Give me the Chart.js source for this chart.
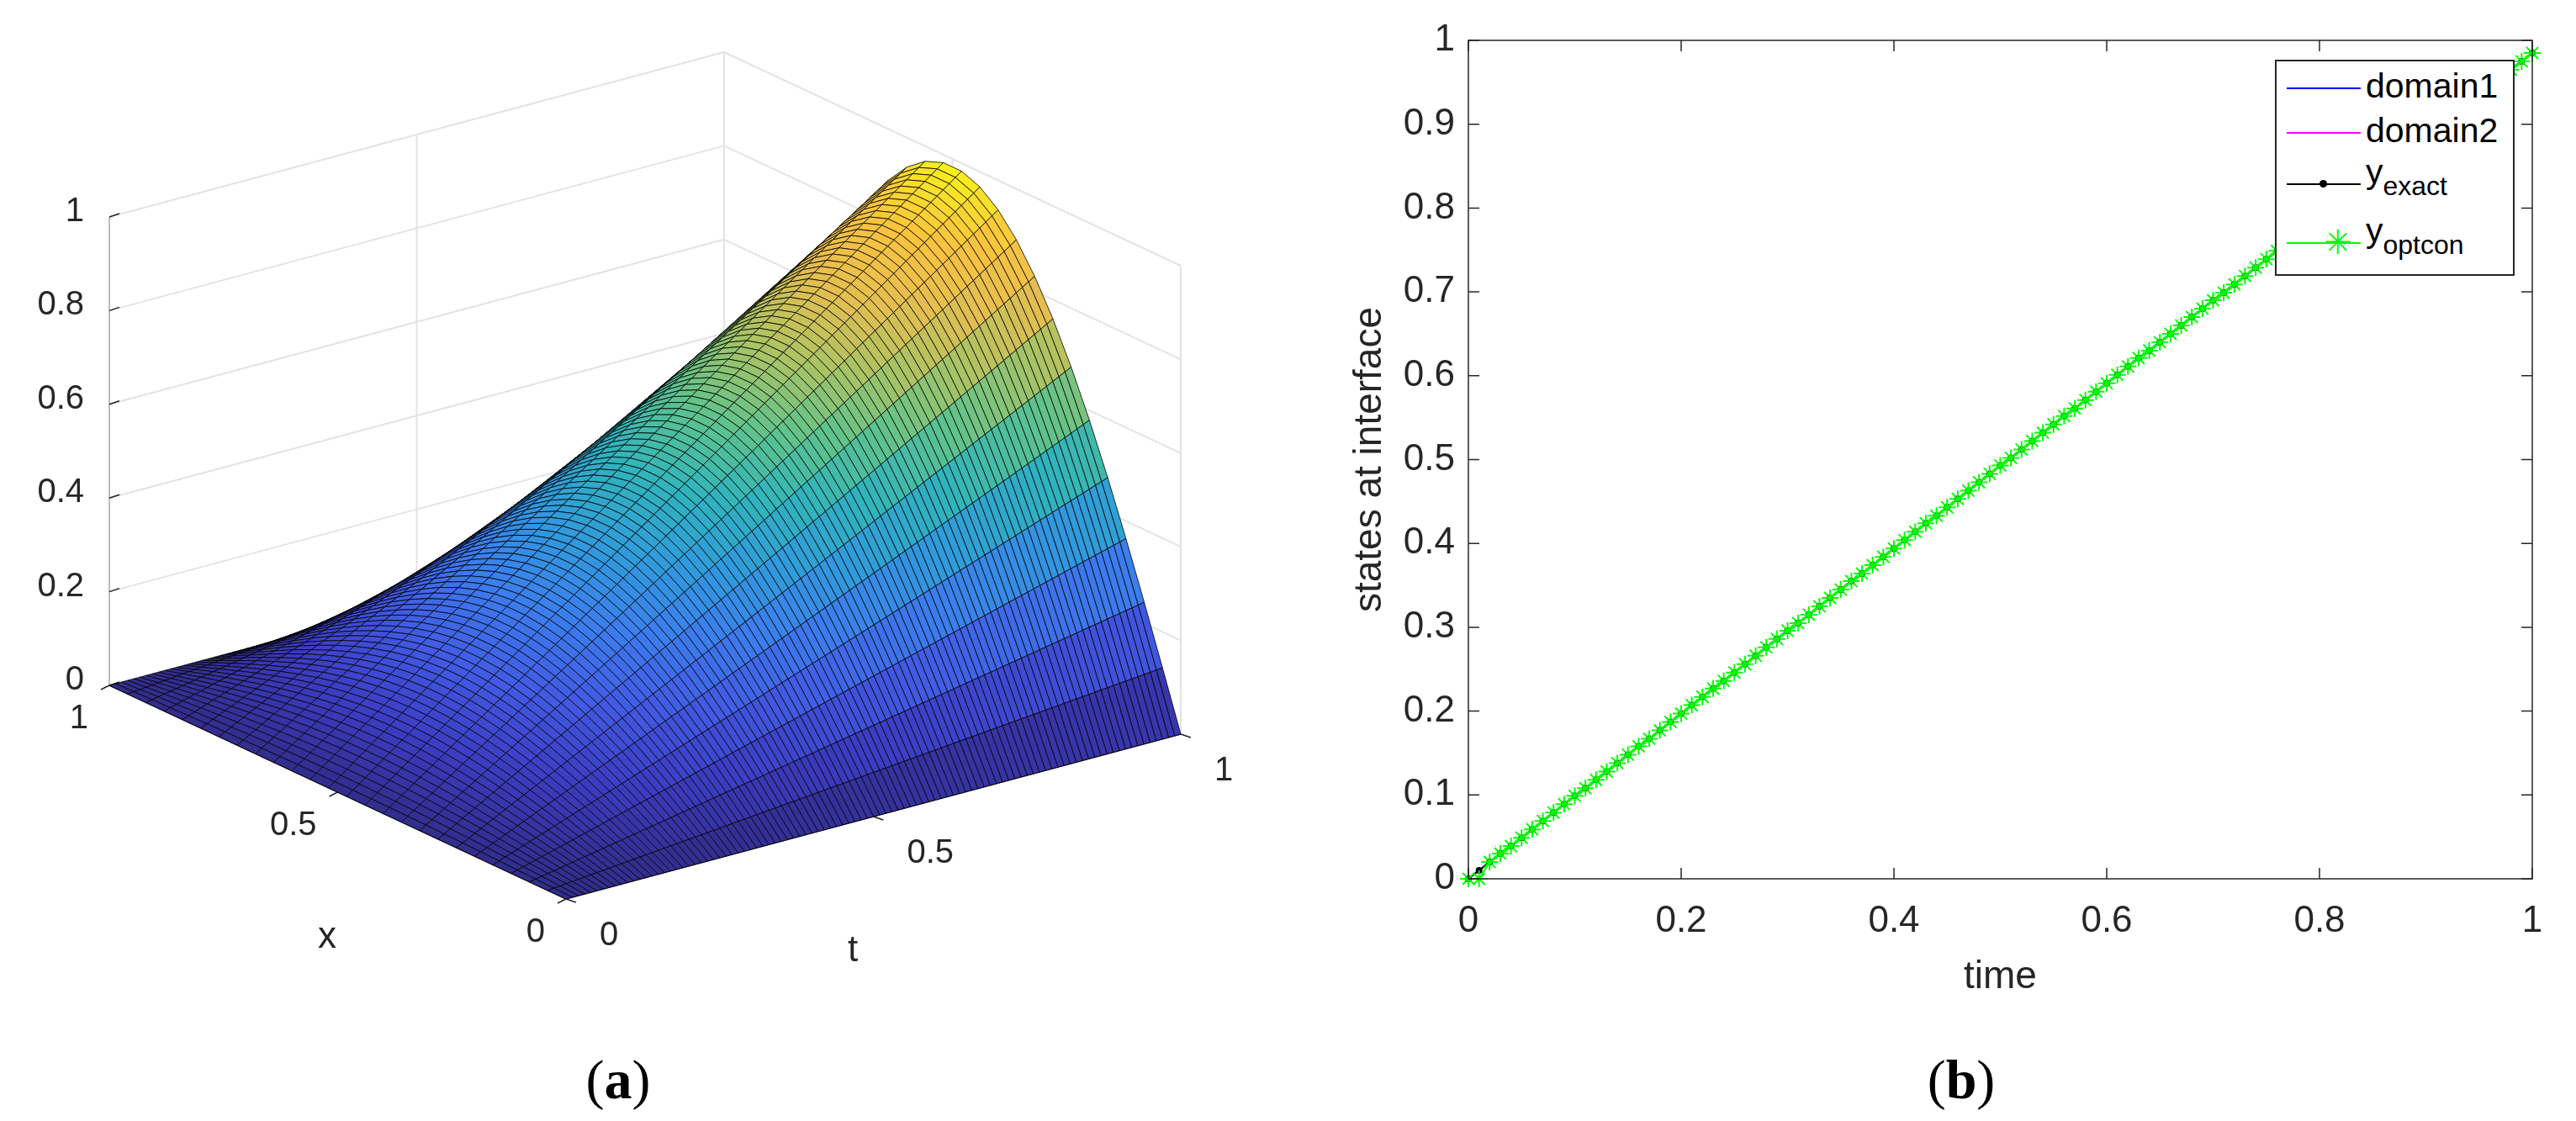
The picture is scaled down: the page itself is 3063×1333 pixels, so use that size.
<!DOCTYPE html>
<html><head><meta charset="utf-8">
<script src="https://cdn.jsdelivr.net/npm/chart.js@4"></script>
<style>
body{margin:0;background:#fff;width:3063px;height:1333px;position:relative;overflow:hidden;font-family:"Liberation Sans",Arial,sans-serif}
canvas{position:absolute}
.cap{position:absolute;font-family:"Liberation Serif","DejaVu Serif",serif;font-size:66px;color:#000;transform:translate(-50%,-50%)}
#legend{position:absolute;left:2705px;top:71px;width:281px;height:253px;border:2px solid #262626;background:#fff;font-size:41px;color:#000}
.row{position:absolute;left:10px;height:40px}
.sw{position:absolute;left:2px;width:88px;top:0;height:2px}
.lab{position:absolute;left:96px;white-space:nowrap;line-height:1}
sub{font-size:32px;vertical-align:-14px}
</style></head><body>
<div id="wl" style="position:absolute;left:0;top:0;width:1500px;height:1200px"><canvas id="c1"></canvas></div>
<div id="wr" style="position:absolute;left:1600px;top:0;width:1463px;height:1200px"><canvas id="c2"></canvas></div>
<div id="legend">
 <div class="row" style="top:31px"><div class="sw" style="background:#0000ff;top:0"></div><div class="lab" style="top:-22px">domain1</div></div>
 <div class="row" style="top:84px"><div class="sw" style="background:#ff00ff;top:0"></div><div class="lab" style="top:-22px">domain2</div></div>
 <div class="row" style="top:145px"><div class="sw" style="background:#000;top:0"></div><div style="position:absolute;left:41px;top:-4px;width:9px;height:9px;border-radius:50%;background:#000"></div><div class="lab" style="top:-34px">y<sub>exact</sub></div></div>
 <div class="row" style="top:215px"><div class="sw" style="background:#00ff00;top:0"></div><div style="position:absolute;left:46px;top:-12px;color:#00ff00;font-size:40px;line-height:24px">✳</div><div class="lab" style="top:-34px">y<sub>optcon</sub></div></div>
</div>
<div class="cap" style="left:735px;top:1284px">(<b>a</b>)</div>
<div class="cap" style="left:2332px;top:1284px">(<b>b</b>)</div>
<script>
// ---------- data (a) surface ----------
const xGrid = [0,0.04,0.08,0.12,0.16,0.2,0.24,0.28,0.32,0.36,0.4,0.44,0.48,0.52,0.56,0.6,0.64,0.68,0.72,0.76,0.8,0.84,0.88,0.92,0.96,1];
const xProfile = [0,0.1234,0.2450,0.3626,0.4746,0.5790,0.6742,0.7589,0.8316,0.8912,0.9368,0.9676,0.9830,0.9830,0.9676,0.9368,0.8912,0.8316,0.7589,0.6742,0.5790,0.4746,0.3626,0.2450,0.1234,0];
const tGrid = [0,0.01,0.02,0.03,0.04,0.05,0.06,0.07,0.08,0.09,0.1,0.11,0.12,0.13,0.14,0.15,0.16,0.17,0.18,0.19,0.2,0.21,0.22,0.23,0.24,0.25,0.26,0.27,0.28,0.29,0.3,0.31,0.32,0.33,0.34,0.35,0.36,0.37,0.38,0.39,0.4,0.41,0.42,0.43,0.44,0.45,0.46,0.47,0.48,0.49,0.5,0.51,0.52,0.53,0.54,0.55,0.56,0.57,0.58,0.59,0.6,0.61,0.62,0.63,0.64,0.65,0.66,0.67,0.68,0.69,0.7,0.71,0.72,0.73,0.74,0.75,0.76,0.77,0.78,0.79,0.8,0.81,0.82,0.83,0.84,0.85,0.86,0.87,0.88,0.89,0.9,0.91,0.92,0.93,0.94,0.95,0.96,0.97,0.98,0.99,1];
const tAmplitude = tGrid.slice();
const zTicks = [0,0.2,0.4,0.6,0.8,1];
const zTickLabels = ['0','0.2','0.4','0.6','0.8','1'];
const xTicks3 = [1,0.5,0]; const xTickLabels3 = ['1','0.5','0'];
const tTicks3 = [0,0.5,1]; const tTickLabels3 = ['0','0.5','1'];

// ---------- data (b) ----------
const timeVals = [0,0.01,0.02,0.03,0.04,0.05,0.06,0.07,0.08,0.09,0.1,0.11,0.12,0.13,0.14,0.15,0.16,0.17,0.18,0.19,0.2,0.21,0.22,0.23,0.24,0.25,0.26,0.27,0.28,0.29,0.3,0.31,0.32,0.33,0.34,0.35,0.36,0.37,0.38,0.39,0.4,0.41,0.42,0.43,0.44,0.45,0.46,0.47,0.48,0.49,0.5,0.51,0.52,0.53,0.54,0.55,0.56,0.57,0.58,0.59,0.6,0.61,0.62,0.63,0.64,0.65,0.66,0.67,0.68,0.69,0.7,0.71,0.72,0.73,0.74,0.75,0.76,0.77,0.78,0.79,0.8,0.81,0.82,0.83,0.84,0.85,0.86,0.87,0.88,0.89,0.9,0.91,0.92,0.93,0.94,0.95,0.96,0.97,0.98,0.99,1];
const yExact = [0,0.010,0.020,0.030,0.039,0.049,0.059,0.069,0.079,0.089,0.099,0.108,0.118,0.128,0.138,0.148,0.158,0.167,0.177,0.187,0.197,0.207,0.217,0.227,0.236,0.246,0.256,0.266,0.276,0.286,0.296,0.305,0.315,0.325,0.335,0.345,0.355,0.364,0.374,0.384,0.394,0.404,0.414,0.424,0.433,0.443,0.453,0.463,0.473,0.483,0.493,0.502,0.512,0.522,0.532,0.542,0.552,0.561,0.571,0.581,0.591,0.601,0.611,0.621,0.630,0.640,0.650,0.660,0.670,0.680,0.690,0.699,0.709,0.719,0.729,0.739,0.749,0.758,0.768,0.778,0.788,0.798,0.808,0.818,0.827,0.837,0.847,0.857,0.867,0.877,0.887,0.896,0.906,0.916,0.926,0.936,0.946,0.955,0.965,0.975,0.985];
const yOptcon = [0,0,0.020,0.030,0.039,0.049,0.059,0.069,0.079,0.089,0.099,0.108,0.118,0.128,0.138,0.148,0.158,0.167,0.177,0.187,0.197,0.207,0.217,0.227,0.236,0.246,0.256,0.266,0.276,0.286,0.296,0.305,0.315,0.325,0.335,0.345,0.355,0.364,0.374,0.384,0.394,0.404,0.414,0.424,0.433,0.443,0.453,0.463,0.473,0.483,0.493,0.502,0.512,0.522,0.532,0.542,0.552,0.561,0.571,0.581,0.591,0.601,0.611,0.621,0.630,0.640,0.650,0.660,0.670,0.680,0.690,0.699,0.709,0.719,0.729,0.739,0.749,0.758,0.768,0.778,0.788,0.798,0.808,0.818,0.827,0.837,0.847,0.857,0.867,0.877,0.887,0.896,0.906,0.916,0.926,0.936,0.946,0.955,0.965,0.975,0.985];
const yDomain1 = yExact.slice();
const yDomain2 = yExact.slice();
const xTicksB = [0,0.2,0.4,0.6,0.8,1];
const yTicksB = [0,0.1,0.2,0.3,0.4,0.5,0.6,0.7,0.8,0.9,1];

// ---------- chart (a) ----------
const cstops=[[0,[50,45,140]],[0.1,[60,60,195]],[0.2,[66,90,228]],[0.3,[60,125,238]],[0.4,[48,155,220]],[0.5,[48,180,188]],[0.6,[95,195,140]],[0.7,[170,195,100]],[0.8,[228,190,80]],[0.9,[250,195,62]],[1,[249,240,30]]];
function cmap(v){v=Math.max(0,Math.min(1,v));for(let i=1;i<cstops.length;i++){if(v<=cstops[i][0]){const a=cstops[i-1],b=cstops[i],f=(v-a[0])/(b[0]-a[0]);return 'rgb('+a[1].map((c,k)=>Math.round(c+(b[1][k]-c)*f)).join(',')+')';}}return 'rgb(249,240,30)';}
function proj(x,t,z){return [673-543*x+731*t, 1069-254*x-196*t-557*z];}
const surfPlugin={id:'surf',afterDraw(ch){
 const ctx=ch.ctx,sx=ch.scales.x,sy=ch.scales.y;
 const P=(x,t,z)=>{const p=proj(x,t,z);return [sx.getPixelForValue(p[0]),sy.getPixelForValue(p[1])];};
 const line=(a,b,col,w)=>{ctx.strokeStyle=col;ctx.lineWidth=w;ctx.beginPath();ctx.moveTo(a[0],a[1]);ctx.lineTo(b[0],b[1]);ctx.stroke();};
 ctx.save();
 const g='#e3e3e3';
 zTicks.forEach(z=>{line(P(1,0,z),P(1,1,z),g,2);line(P(1,1,z),P(0,1,z),g,2);});
 [0,0.5,1].forEach(t=>line(P(1,t,0),P(1,t,1),g,2));
 [0,0.5].forEach(x=>line(P(x,1,0),P(x,1,1),g,2));
 [0.5].forEach(v=>{line(P(1,v,0),P(0,v,0),g,2);line(P(v,0,0),P(v,1,0),g,2);});
 line(P(1,0,0),P(1,0,1),'#bdbdbd',2);
 line(P(1,0,0),P(0,0,0),'#262626',1.5);line(P(0,0,0),P(0,1,0),'#262626',1.5);
 ctx.fillStyle='#262626';ctx.font='40px "Liberation Sans",Arial,sans-serif';
 ctx.textAlign='right';ctx.textBaseline='middle';
 zTicks.forEach((z,i)=>{const p=P(1,0,z);line(p,[p[0]+12,p[1]-4],'#262626',1.5);ctx.fillText(zTickLabels[i],p[0]-30,p[1]-6);});
 xTicks3.forEach((x,i)=>{const p=P(x,0,0);line(p,[p[0]-10,p[1]+5],'#262626',1.5);ctx.fillText(xTickLabels3[i],p[0]-25,p[1]+40);});
 ctx.textAlign='left';
 tTicks3.forEach((t,i)=>{const p=P(0,t,0);line(p,[p[0]+12,p[1]+4],'#262626',1.5);ctx.fillText(tTickLabels3[i],p[0]+40,p[1]+44);});
 ctx.textAlign='center';ctx.font='44px "Liberation Sans",Arial,sans-serif';
 ctx.fillText('x',sx.getPixelForValue(389),sy.getPixelForValue(1115));
 ctx.fillText('t',sx.getPixelForValue(1014),sy.getPixelForValue(1131));
 const quads=[];
 for(let i=0;i<xGrid.length-1;i++)for(let j=0;j<tGrid.length-1;j++){
  const xa=xGrid[i],xb=xGrid[i+1],ta=tGrid[j],tb=tGrid[j+1];
  const z=(a,b)=>tAmplitude[b]*xProfile[a];
  const pts=[P(xa,ta,z(i,j)),P(xb,ta,z(i+1,j)),P(xb,tb,z(i+1,j+1)),P(xa,tb,z(i,j+1))];
  const depth=proj((xa+xb)/2,(ta+tb)/2,0)[1];
  const zc=(z(i,j)+z(i+1,j)+z(i+1,j+1)+z(i,j+1))/4;
  quads.push({pts,depth,c:cmap(zc/0.983)});
 }
 quads.sort((a,b)=>a.depth-b.depth);
 ctx.lineJoin='round';
 quads.forEach(q=>{ctx.beginPath();ctx.moveTo(q.pts[0][0],q.pts[0][1]);for(let k=1;k<4;k++)ctx.lineTo(q.pts[k][0],q.pts[k][1]);ctx.closePath();
  ctx.fillStyle=q.c;ctx.fill();ctx.strokeStyle='rgba(0,0,0,0.8)';ctx.lineWidth=1;ctx.stroke();});
 ctx.restore();
}};
new Chart(document.getElementById('c1'),{type:'scatter',data:{datasets:[]},
 options:{responsive:true,maintainAspectRatio:false,animation:false,layout:{padding:0},
 plugins:{legend:{display:false},tooltip:{enabled:false}},
 scales:{x:{type:'linear',min:0,max:1500,display:false},y:{type:'linear',min:0,max:1200,reverse:true,display:false}}},
 plugins:[surfPlugin]});

// ---------- chart (b) ----------
const mk=(xs,ys)=>xs.map((x,i)=>({x,y:ys[i]}));
const boxPlugin={id:'box',afterDraw(ch){
 const ctx=ch.ctx,a=ch.chartArea,sx=ch.scales.x,sy=ch.scales.y;ctx.save();
 ctx.strokeStyle='#262626';ctx.lineWidth=1.5;ctx.strokeRect(a.left,a.top,a.right-a.left,a.bottom-a.top);
 ctx.beginPath();
 xTicksB.forEach(v=>{const p=sx.getPixelForValue(v);ctx.moveTo(p,a.bottom);ctx.lineTo(p,a.bottom-13);ctx.moveTo(p,a.top);ctx.lineTo(p,a.top+13);});
 yTicksB.forEach(v=>{const p=sy.getPixelForValue(v);ctx.moveTo(a.left,p);ctx.lineTo(a.left+13,p);ctx.moveTo(a.right,p);ctx.lineTo(a.right-13,p);});
 ctx.stroke();ctx.restore();}};
const tickFont={family:'"Liberation Sans",Arial,sans-serif',size:44};
new Chart(document.getElementById('c2'),{type:'scatter',
 data:{datasets:[
  {label:'domain1',data:mk(timeVals,yDomain1),showLine:true,borderColor:'#0000ff',borderWidth:2,pointRadius:0,order:3},
  {label:'domain2',data:mk(timeVals,yDomain2),showLine:true,borderColor:'#ff00ff',borderWidth:2,pointRadius:0,order:2},
  {label:'y exact',data:mk(timeVals,yExact),showLine:true,borderColor:'#000',borderWidth:2,pointRadius:3,pointBackgroundColor:'#000',pointBorderColor:'#000',order:1},
  {label:'y optcon',data:mk(timeVals,yOptcon),showLine:true,borderColor:'#00ff00',borderWidth:2,pointStyle:'star',pointRadius:10,pointBorderColor:'#00ff00',pointBorderWidth:2,order:0}
 ]},
 options:{responsive:true,maintainAspectRatio:false,animation:false,clip:false,
 layout:{padding:{top:48,right:52,left:0,bottom:0}},
 plugins:{legend:{display:false},tooltip:{enabled:false}},
 scales:{
  x:{type:'linear',min:0,max:1,afterFit(s){s.height=155;},afterBuildTicks(s){s.ticks=xTicksB.map(v=>({value:v}));},
   grid:{display:false,drawTicks:false},border:{display:false},
   ticks:{color:'#262626',font:tickFont,padding:24,maxRotation:0,callback:v=>String(v)},
   title:{display:true,text:'time',color:'#262626',font:{family:'"Liberation Sans",Arial,sans-serif',size:46},padding:{top:0,bottom:10}}},
  y:{type:'linear',min:0,max:1,afterFit(s){s.width=146;},afterBuildTicks(s){s.ticks=yTicksB.map(v=>({value:v}));},
   grid:{display:false,drawTicks:false},border:{display:false},
   ticks:{color:'#262626',font:tickFont,padding:16,callback:v=>String(v)},
   title:{display:true,text:'states at interface',color:'#262626',font:{family:'"Liberation Sans",Arial,sans-serif',size:46},padding:{top:2,bottom:0}}}
 }},plugins:[boxPlugin]});
</script></body></html>
